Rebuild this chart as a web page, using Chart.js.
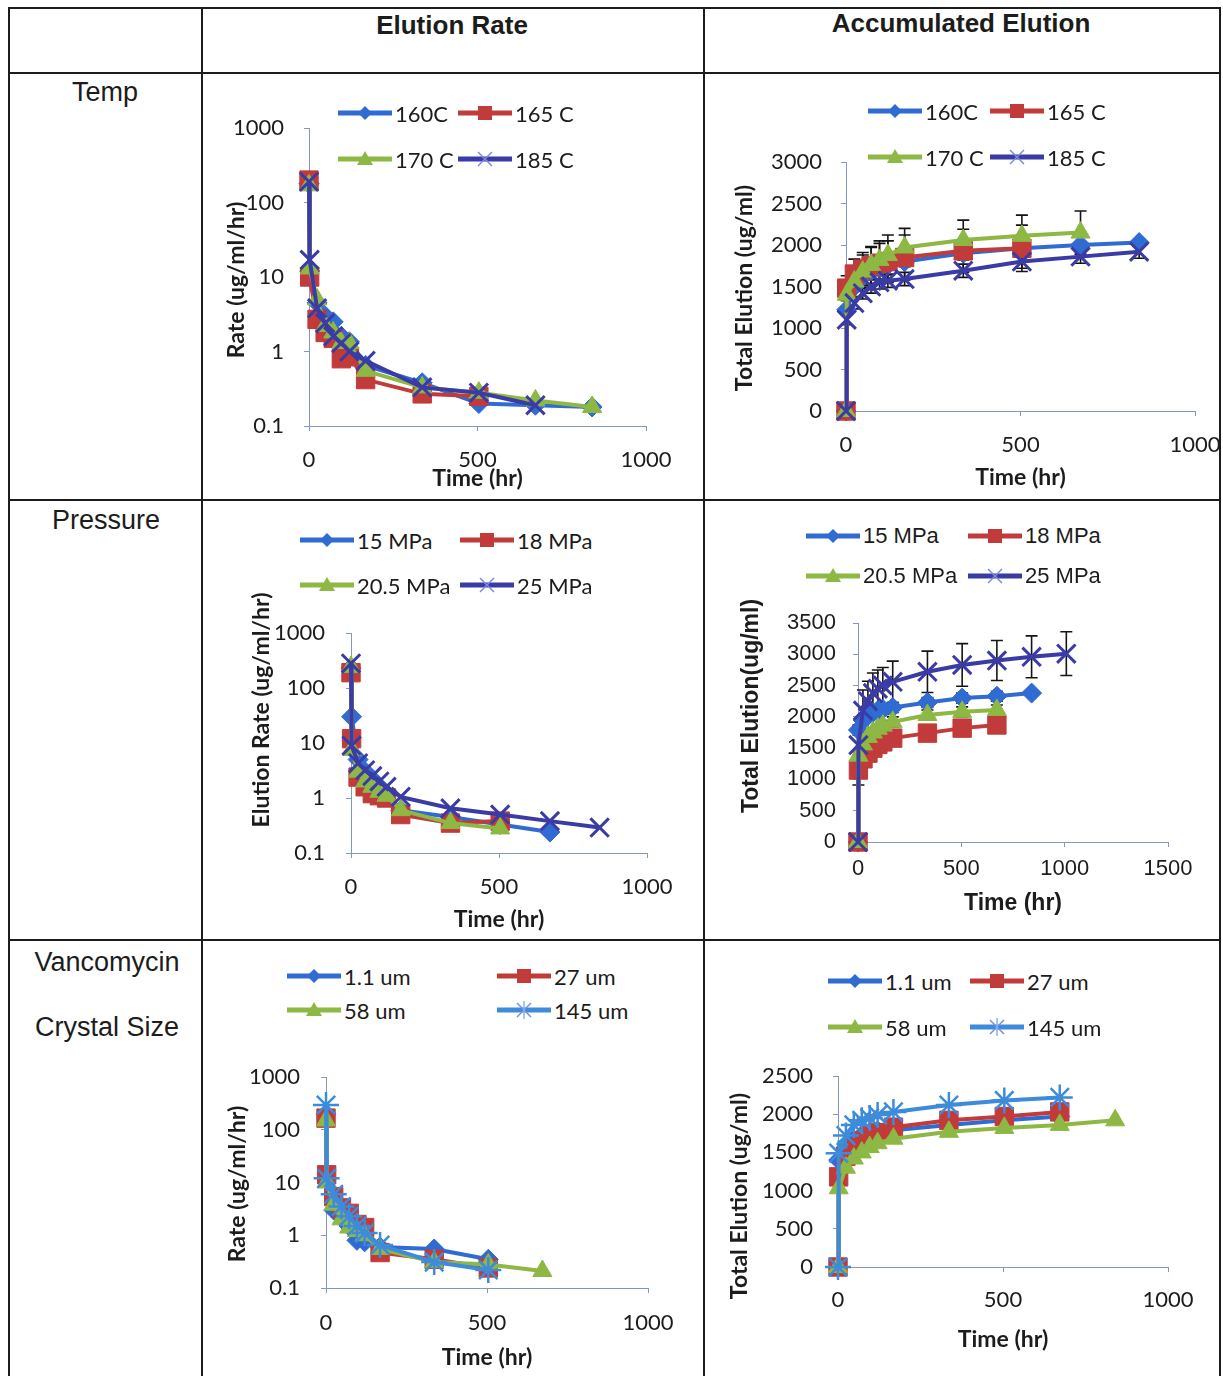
<!DOCTYPE html>
<html>
<head>
<meta charset="utf-8">
<script src="https://cdn.jsdelivr.net/npm/chart.js@4.4.1/dist/chart.umd.min.js"></script>
<style>
  body { margin: 0; background: #fff; width: 1223px; height: 1376px; position: relative; overflow: hidden;
         font-family: "Liberation Sans", Arial, sans-serif; color: #1c1c1c; }
  .ln { position: absolute; background: #1c1c1c; }
  .hd { position: absolute; font-weight: bold; font-size: 26px; transform: translate(-50%, -50%); white-space: nowrap; }
  .rl { position: absolute; font-size: 27px; transform: translate(-50%, -50%); white-space: nowrap; }
  canvas { position: absolute; }
  .lg { position: absolute; display: flex; align-items: center; white-space: nowrap; font-size: 22px; height: 28px; z-index: 2; }
  .lg svg { margin-right: 3px; }
</style>
</head>
<body>
<!-- table frame -->
<div class="ln" style="left:8px;top:7px;width:1213px;height:2px"></div>
<div class="ln" style="left:8px;top:7px;width:2px;height:1380px"></div>
<div class="ln" style="left:1219px;top:7px;width:2px;height:1380px"></div>
<div class="ln" style="left:201px;top:7px;width:2px;height:1380px"></div>
<div class="ln" style="left:703px;top:7px;width:2px;height:1380px"></div>
<div class="ln" style="left:8px;top:72px;width:1213px;height:2px"></div>
<div class="ln" style="left:8px;top:499px;width:1213px;height:2px"></div>
<div class="ln" style="left:8px;top:939px;width:1213px;height:2px"></div>

<div class="hd" style="left:452px;top:25px">Elution Rate</div>
<div class="hd" style="left:961px;top:23px">Accumulated Elution</div>
<div class="rl" style="left:105px;top:92px">Temp</div>
<div class="rl" style="left:106px;top:520px">Pressure</div>
<div class="rl" style="left:107px;top:962px">Vancomycin</div>
<div class="rl" style="left:107px;top:1027px">Crystal Size</div>

<script>
// sampling times (hr), each series uses the first n of them
const timeHr = [0, 2, 24, 48, 72, 96, 120, 168, 336, 504, 672, 840, 1008];
const rateTicks = [0.1, 1, 10, 100, 1000];

// --- Temp ---
const tempLabels = ['160C', '165 C', '170 C', '185 C'];
const tempRate160 = [180, 12, 4.5, 3.0, 2.5, 1.6, 1.35, 0.65, 0.38, 0.2, 0.19, 0.18];
const tempRate165 = [200, 10, 2.7, 1.8, 1.5, 0.8, 0.85, 0.42, 0.27, 0.25];
const tempRate170 = [170, 13, 5.0, 2.2, 1.8, 1.3, 1.3, 0.55, 0.33, 0.28, 0.22, 0.18];
const tempRate185 = [190, 17, 3.8, 2.4, 1.6, 1.3, 1.0, 0.75, 0.33, 0.28, 0.19];
const tempAcc160 = [0, 1220, 1500, 1620, 1690, 1730, 1760, 1800, 1900, 1960, 2000, 2030];
const tempAcc165 = [0, 1480, 1650, 1710, 1750, 1780, 1800, 1850, 1930, 1960];
const tempAcc170 = [0, 1400, 1560, 1680, 1760, 1820, 1880, 1970, 2060, 2110, 2150];
const tempAcc185 = [0, 1100, 1300, 1420, 1500, 1550, 1570, 1590, 1690, 1800, 1860, 1920];
const tempErr160 = [0, 40, 40, 40, 40, 40, 40, 40, 40, 40, 40, 40];
const tempErr165 = [0, 150, 180, 200, 220, 240, 250, 270, 260, 280];
const tempErr170 = [0, 150, 180, 200, 220, 230, 240, 230, 240, 250, 260];
const tempErr185 = [0, 60, 70, 70, 80, 80, 80, 80, 80, 80, 80, 80];

// --- Pressure ---
const pressLabels = ['15 MPa', '18 MPa', '20.5 MPa', '25 MPa'];
const pressRate15 = [230, 30, 5.0, 3.0, 2.2, 1.6, 1.2, 0.6, 0.45, 0.33, 0.24];
const pressRate18 = [190, 12, 2.4, 1.6, 1.2, 1.1, 1.0, 0.5, 0.35, 0.38];
const pressRate205 = [240, 7.5, 3.0, 2.0, 1.6, 1.3, 1.1, 0.6, 0.35, 0.28];
const pressRate25 = [280, 9, 4.3, 3.2, 2.5, 2.0, 1.6, 1.05, 0.65, 0.5, 0.38, 0.29];
const pressAcc15 = [0, 1790, 1950, 2020, 2070, 2100, 2120, 2150, 2230, 2300, 2330, 2380];
const pressAcc18 = [0, 1150, 1330, 1420, 1500, 1560, 1600, 1660, 1740, 1820, 1870];
const pressAcc205 = [0, 1380, 1560, 1680, 1750, 1810, 1860, 1920, 2030, 2080, 2110];
const pressAcc25 = [0, 1550, 2100, 2250, 2380, 2450, 2500, 2560, 2720, 2830, 2900, 2960, 3010];
const pressErr15 = [0, 80, 80, 80, 80, 80, 80, 80, 80, 80, 80, 0];
const pressErr18 = [0, 240, 80, 60, 60, 60, 60, 60, 60, 60, 60];
const pressErr205 = [0, 80, 80, 80, 80, 80, 80, 80, 80, 80, 80];
const pressErr25 = [0, 300, 330, 320, 320, 300, 290, 330, 330, 340, 320, 335, 350];

// --- Vancomycin crystal size ---
const sizeLabels = ['1.1 um', '27 um', '58 um', '145 um'];
const sizeRate11 = [200, 12, 3.0, 2.2, 1.5, 0.8, 0.75, 0.6, 0.55, 0.35];
const sizeRate27 = [166, 14, 5.4, 3.3, 2.6, 1.6, 1.4, 0.47, 0.35, 0.24];
const sizeRate58 = [150, 10, 3.8, 2.0, 1.4, 1.2, 1.0, 0.55, 0.31, 0.28, 0.21];
const sizeRate145 = [295, 12, 6.0, 3.5, 2.3, 1.5, 1.1, 0.65, 0.31, 0.22];
const sizeAcc11 = [0, 1400, 1560, 1660, 1720, 1750, 1780, 1790, 1860, 1920, 1970];
const sizeAcc27 = [0, 1180, 1450, 1560, 1650, 1720, 1760, 1830, 1920, 1970, 2030];
const sizeAcc58 = [0, 1030, 1300, 1420, 1500, 1570, 1620, 1680, 1770, 1820, 1860, 1920];
const sizeAcc145 = [0, 1490, 1720, 1860, 1920, 1950, 1990, 2030, 2120, 2180, 2220];

// styles
const BLUE = '#2F6BD3', RED = '#C13B3B', GREEN = '#8DB843', INDIGO = '#3B3BA6', SKY = '#3D8BDB';
const mkStyles = (last) => [
  {color: BLUE, point: 'rectRot', r: 10, bw: 1},
  {color: RED, point: 'rect', r: 13, bw: 1},
  {color: GREEN, point: 'triangle', r: 11, bw: 1},
  last
];
const tempStyles = mkStyles({color: INDIGO, point: 'crossRot', r: 13, bw: 3});
const sizeStyles = mkStyles({color: SKY, point: 'star', r: 13, bw: 2.5});
const axisCol = '#8496C8';

const sideTitle = {
  id: 'sideTitle',
  afterDraw(chart, args, o) {
    const c = chart.ctx;
    c.save();
    c.translate(o.x, o.y);
    c.rotate(-Math.PI / 2);
    c.font = o.font;
    c.fillStyle = '#1c1c1c';
    c.textAlign = 'center';
    c.textBaseline = 'middle';
    c.fillText(o.text, 0, 0);
    c.restore();
  }
};

const errorBars = {
  id: 'errorBars',
  beforeDatasetsDraw(chart) {
    const {ctx, scales: {x, y}} = chart;
    ctx.save();
    ctx.strokeStyle = '#151515';
    ctx.lineWidth = 1.6;
    chart.data.datasets.forEach(ds => {
      if (!ds.errors) return;
      ds.data.forEach((p, i) => {
        const e = ds.errors[i];
        if (!e) return;
        const px = x.getPixelForValue(p.x);
        const t = y.getPixelForValue(p.y + e), b = y.getPixelForValue(p.y - e);
        ctx.beginPath();
        ctx.moveTo(px, t); ctx.lineTo(px, b);
        ctx.moveTo(px - 6, t); ctx.lineTo(px + 6, t);
        ctx.moveTo(px - 6, b); ctx.lineTo(px + 6, b);
        ctx.stroke();
      });
    });
    ctx.restore();
  }
};

function markerSvg(st, cx, cy) {
  const c = st.color;
  if (st.point === 'rectRot') return `<polygon points="${cx},${cy-7} ${cx+7},${cy} ${cx},${cy+7} ${cx-7},${cy}" fill="${c}"/>`;
  if (st.point === 'rect') return `<rect x="${cx-7}" y="${cy-7}" width="14" height="14" fill="${c}"/>`;
  if (st.point === 'triangle') return `<polygon points="${cx},${cy-8} ${cx+8},${cy+6} ${cx-8},${cy+6}" fill="${c}"/>`;
  let s = `<line x1="${cx-7}" y1="${cy-7}" x2="${cx+7}" y2="${cy+7}" stroke="#7B8BE0" stroke-width="1.5"/>` +
          `<line x1="${cx-7}" y1="${cy+7}" x2="${cx+7}" y2="${cy-7}" stroke="#7B8BE0" stroke-width="1.5"/>`;
  if (st.point === 'star') s += `<line x1="${cx}" y1="${cy-9}" x2="${cx}" y2="${cy+9}" stroke="#7BB8F0" stroke-width="1.5"/>`;
  return s;
}

function makeLegend(labels, styles, cols, rows, family) {
  labels.forEach((lab, i) => {
    const st = styles[i];
    const d = document.createElement('div');
    d.className = 'lg';
    d.style.left = cols[i % 2] + 'px';
    d.style.top = (rows[Math.floor(i / 2)] - 14) + 'px';
    d.style.fontFamily = family;
    d.innerHTML = `<svg width="54" height="28"><line x1="0" y1="14" x2="54" y2="14" stroke="${st.color}" stroke-width="5"/>${markerSvg(st, 27, 14)}</svg><span>${lab}</span>`;
    document.body.appendChild(d);
  });
}

// canvas spans the plot box plus fixed margins; top/right margins kept generous
function makeChart(cfg) {
  const L = cfg.box;
  const ct = L.pt - 50, cr = L.pr + 60;
  const cv = document.createElement('canvas');
  cv.width = cr - L.cl;
  cv.height = L.cb - ct;
  cv.style.left = L.cl + 'px';
  cv.style.top = ct + 'px';
  document.body.appendChild(cv);
  const tickFont = {family: cfg.family, size: 22};
  const titleFont = {family: cfg.family, size: 23, weight: 'bold'};
  const datasets = cfg.series.map((vals, i) => {
    const st = cfg.styles[i];
    return {
      label: cfg.labels[i],
      data: vals.map((v, j) => ({x: timeHr[j], y: v})),
      errors: cfg.errors ? cfg.errors[i] : null,
      borderColor: st.color,
      backgroundColor: st.color,
      pointBackgroundColor: st.color,
      pointBorderColor: st.color,
      pointStyle: st.point,
      pointRadius: st.r,
      pointBorderWidth: st.bw,
      borderWidth: 4,
      tension: 0,
      clip: false,
      order: cfg.series.length - i
    };
  });
  const yScale = {
    type: cfg.yLog ? 'logarithmic' : 'linear',
    min: cfg.yMin,
    max: cfg.yMax,
    ticks: {stepSize: cfg.yStep, padding: L.yPad, font: tickFont, color: '#1c1c1c', callback: v => String(v)},
    grid: {drawOnChartArea: false, tickLength: 5, color: axisCol},
    border: {color: axisCol, width: 1},
    afterFit: s => { s.width = L.pl - L.cl; }
  };
  if (cfg.yLog) yScale.afterBuildTicks = s => { s.ticks = rateTicks.map(v => ({value: v})); };
  new Chart(cv, {
    type: 'line',
    data: {datasets},
    plugins: [sideTitle, errorBars],
    options: {
      responsive: false,
      animation: false,
      layout: {autoPadding: false, padding: {left: 0, top: L.pt - ct, right: cr - L.pr, bottom: 0}},
      scales: {
        x: {
          type: 'linear', min: 0, max: cfg.xMax,
          ticks: {stepSize: 500, padding: L.xPad, font: tickFont, color: '#1c1c1c', maxRotation: 0, callback: v => String(v)},
          grid: {drawOnChartArea: false, tickLength: 5, color: axisCol},
          border: {color: axisCol, width: 1},
          title: {display: true, text: 'Time (hr)', font: titleFont, color: '#1c1c1c', padding: 0},
          afterFit: s => { s.height = L.cb - L.pb; }
        },
        y: yScale
      },
      plugins: {
        legend: {display: false},
        tooltip: {enabled: false},
        sideTitle: {text: cfg.yTitle, x: L.ytx - L.cl, y: L.yty - ct,
                    font: `bold 23px ${cfg.family}`}
      }
    }
  });
  makeLegend(cfg.labels, cfg.styles, cfg.legCols, cfg.legRows, cfg.family);
}

const LATO = 'Lato';
const ARIAL = '"Liberation Sans"';

makeChart({
  box: {cl: 217, cb: 492, pl: 309, pt: 128, pr: 646, pb: 426, xPad: 16, yPad: 20, ytx: 237, yty: 280},
  labels: tempLabels, styles: tempStyles,
  series: [tempRate160, tempRate165, tempRate170, tempRate185],
  yLog: true, yMin: 0.1, yMax: 1000, xMax: 1000,
  yTitle: 'Rate (ug/ml/hr)', family: LATO,
  legCols: [338, 458], legRows: [113, 159]
});
makeChart({
  box: {cl: 725, cb: 491, pl: 846, pt: 162, pr: 1195, pb: 411, xPad: 16, yPad: 19, ytx: 745, yty: 288},
  labels: tempLabels, styles: tempStyles,
  series: [tempAcc160, tempAcc165, tempAcc170, tempAcc185],
  errors: [tempErr160, tempErr165, tempErr170, tempErr185],
  yLog: false, yMin: 0, yMax: 3000, yStep: 500, xMax: 1000,
  yTitle: 'Total Elution (ug/ml)', family: LATO,
  legCols: [868, 990], legRows: [111, 157]
});
makeChart({
  box: {cl: 242, cb: 933, pl: 351, pt: 633, pr: 647, pb: 853, xPad: 16, yPad: 21, ytx: 262, yty: 710},
  labels: pressLabels, styles: tempStyles,
  series: [pressRate15, pressRate18, pressRate205, pressRate25],
  yLog: true, yMin: 0.1, yMax: 1000, xMax: 1000,
  yTitle: 'Elution Rate (ug/ml/hr)', family: LATO,
  legCols: [300, 460], legRows: [540, 585]
});
makeChart({
  box: {cl: 732, cb: 917, pl: 858, pt: 623, pr: 1168, pb: 842, xPad: 9, yPad: 17, ytx: 752, yty: 706},
  labels: pressLabels, styles: tempStyles,
  series: [pressAcc15, pressAcc18, pressAcc205, pressAcc25],
  errors: [pressErr15, pressErr18, pressErr205, pressErr25],
  yLog: false, yMin: 0, yMax: 3500, yStep: 500, xMax: 1500,
  yTitle: 'Total Elution(ug/ml)', family: ARIAL,
  legCols: [806, 968], legRows: [536, 576]
});
makeChart({
  box: {cl: 218, cb: 1371, pl: 326, pt: 1077, pr: 648, pb: 1288, xPad: 17, yPad: 21, ytx: 238, yty: 1184},
  labels: sizeLabels, styles: sizeStyles,
  series: [sizeRate11, sizeRate27, sizeRate58, sizeRate145],
  yLog: true, yMin: 0.1, yMax: 1000, xMax: 1000,
  yTitle: 'Rate (ug/ml/hr)', family: LATO,
  legCols: [287, 497], legRows: [976, 1010]
});
makeChart({
  box: {cl: 720, cb: 1353, pl: 838, pt: 1076, pr: 1168, pb: 1267, xPad: 15, yPad: 20, ytx: 740, yty: 1196},
  labels: sizeLabels, styles: sizeStyles,
  series: [sizeAcc11, sizeAcc27, sizeAcc58, sizeAcc145],
  yLog: false, yMin: 0, yMax: 2500, yStep: 500, xMax: 1000,
  yTitle: 'Total Elution (ug/ml)', family: LATO,
  legCols: [828, 970], legRows: [981, 1027]
});
</script>
</body>
</html>
